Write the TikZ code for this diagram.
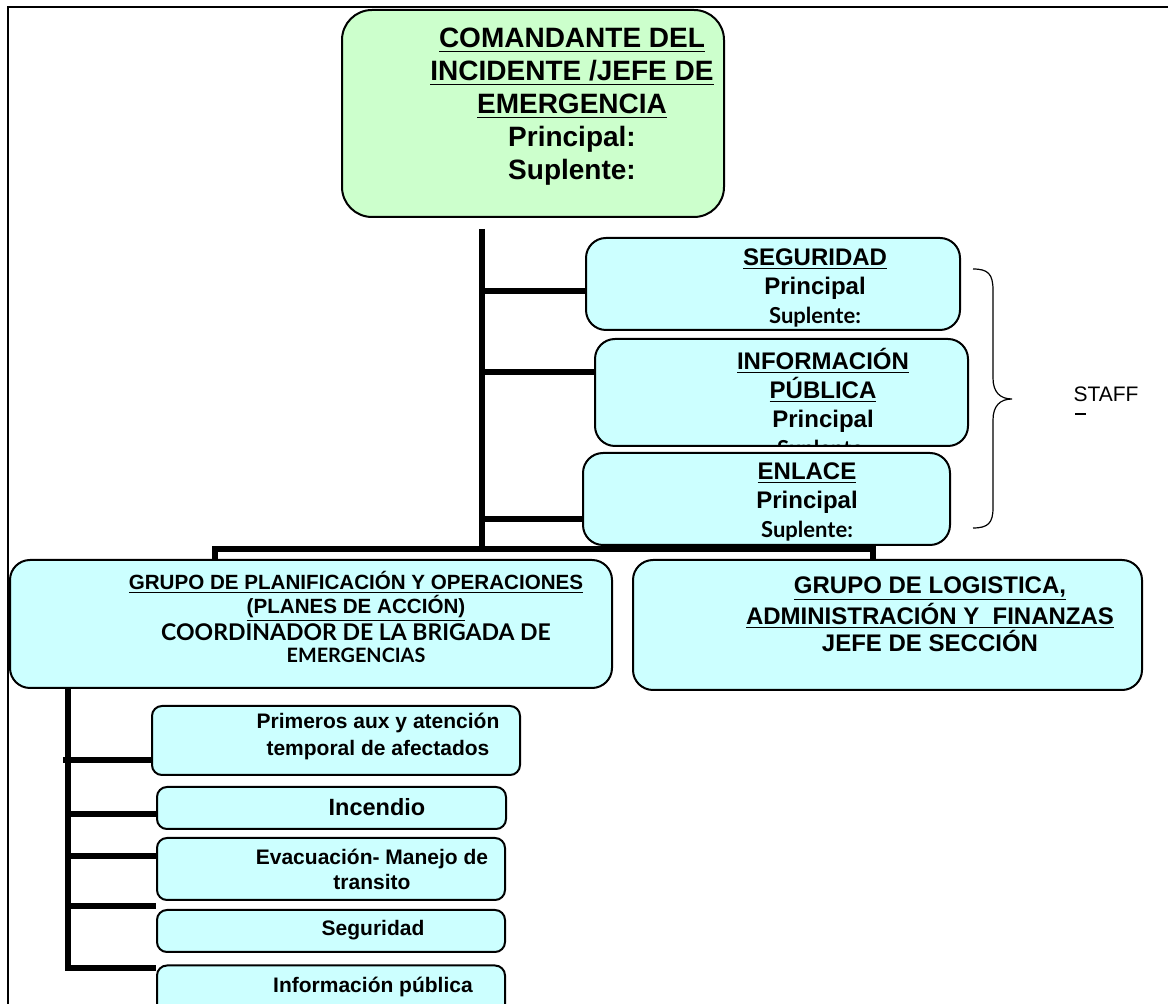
\documentclass[tikz,border=0pt]{standalone}
\usepackage{fontspec}
\setmainfont{Liberation Sans}
\newfontfamily\gillfont{Lato}
\definecolor{verde}{HTML}{CCFFCC}
\definecolor{celeste}{HTML}{CCFFFF}
\begin{document}
\begin{tikzpicture}[x=0.5pt,y=-0.5pt,
    caja/.style={draw=black, line width=1pt, fill=celeste, inner sep=0pt},
    texto/.style={align=center, inner sep=0pt},
    linea/.style={line width=3pt}]
    \useasboundingbox (0,0) rectangle (1168,1004);
    % marco
    \draw[line width=1.2pt] (8,1010) -- (8,7) -- (1175,7);
    % jefe de emergencia
    \node[caja, fill=verde, rounded corners=15pt, minimum width=191pt, minimum height=103.5pt] (jefe) at (533,113.5) {};
    \node[texto, font=\bfseries\fontsize{14}{16.5}\selectfont] (jefe-t) at (572,107)
        {\underline{COMANDANTE DEL}\\ \underline{INCIDENTE /JEFE DE}\\ \underline{EMERGENCIA}\\ Principal:\\ Suplente:};
    % staff
    \node[caja, rounded corners=10pt, minimum width=187pt, minimum height=46pt] (seg) at (773,284) {};
    \node[texto, font=\bfseries\fontsize{12}{14.5}\selectfont] (seg-t) at (815,288)
        {\underline{SEGURIDAD}\\ Principal\\ {\gillfont\fontsize{11}{12}\selectfont Suplente:}};
    \node[caja, rounded corners=10pt, minimum width=186.5pt, minimum height=53.5pt] (info) at (781.5,392.5) {};
    \begin{scope}
        \clip[rounded corners=10pt] (info.south west) rectangle (info.north east);
        \node[texto, font=\bfseries\fontsize{12}{14.5}\selectfont] (info-t) at (823,404)
            {\underline{INFORMACIÓN}\\ \underline{PÚBLICA}\\ Principal\\ {\gillfont\fontsize{11}{12}\selectfont Suplente:}};
    \end{scope}
    \node[caja, rounded corners=10pt, minimum width=183.5pt, minimum height=46pt] (enlace) at (766.5,499) {};
    \node[texto, font=\bfseries\fontsize{12}{14.5}\selectfont] (enlace-t) at (807,502)
        {\underline{ENLACE}\\ Principal\\ {\gillfont\fontsize{11}{12}\selectfont Suplente:}};
    % llave y staff
    \draw[line width=0.6pt] (973,269) .. controls (988,269) and (993,274) .. (993,290) -- (993,378)
        .. controls (993,392) and (1000,399) .. (1012,399) .. controls (1000,399) and (993,406) .. (993,420)
        -- (993,508) .. controls (993,523) and (988,528) .. (973,528);
    \node[texto, font=\fontsize{10.5}{12}\selectfont] (staff) at (1106,394) {STAFF};
    \draw[line width=0.6pt] (1075,414) -- (1086,414);
    % grupos
    \node[caja, rounded corners=10pt, minimum width=301pt, minimum height=64pt] (planif) at (311,624) {};
    \node[texto, font=\bfseries\fontsize{10.3}{11}\selectfont] (planif-t) at (356,617)
        {\underline{GRUPO DE PLANIFICACIÓN Y OPERACIONES}\\ \underline{(PLANES DE ACCIÓN)}\\
         {\gillfont\fontsize{11.5}{11.5}\selectfont COORDINADOR DE LA BRIGADA DE}\\ {\gillfont\fontsize{9.9}{11}\selectfont EMERGENCIAS}};
    \node[caja, rounded corners=10pt, minimum width=254.5pt, minimum height=65pt] (logis) at (887.5,625) {};
    \node[texto, font=\bfseries\fontsize{12}{13.5}\selectfont] (logis-t) at (930,614)
        {\underline{GRUPO DE LOGISTICA,}\\ \underline{ADMINISTRACIÓN Y\ \ FINANZAS}\\ JEFE DE SECCIÓN};
    % brigadas
    \node[caja, rounded corners=5pt, minimum width=184pt, minimum height=34.5pt] (primeros) at (336,740.5) {};
    \node[texto, font=\bfseries\fontsize{10.5}{13.5}\selectfont] (primeros-t) at (378,736.5)
        {Primeros aux y atención\\ temporal de afectados};
    \node[caja, rounded corners=5pt, minimum width=174.5pt, minimum height=21pt] (incendio) at (331.5,808) {};
    \node[texto, font=\bfseries\fontsize{11.75}{13}\selectfont] (incendio-t) at (377,807) {Incendio};
    \node[caja, rounded corners=5pt, minimum width=174pt, minimum height=31pt] (evac) at (331,869) {};
    \node[texto, font=\bfseries\fontsize{10.5}{12.5}\selectfont] (evac-t) at (372,869.5)
        {Evacuación- Manejo de\\ transito};
    \node[caja, rounded corners=5pt, minimum width=174pt, minimum height=21pt] (segur) at (331,931) {};
    \node[texto, font=\bfseries\fontsize{10.5}{12}\selectfont] (segur-t) at (373,930) {Seguridad};
    \node[caja, rounded corners=5pt, minimum width=174pt, minimum height=24.5pt] (infopub) at (331,990) {};
    \node[texto, font=\bfseries\fontsize{10.5}{12}\selectfont] (infopub-t) at (373,987) {Información pública};
    % conectores
    \coordinate (tronco) at (482,229);
    \coordinate (bus-izq) at (215,549);
    \coordinate (bus-der) at (873,549);
    \draw[linea] (tronco) -- (tronco |- bus-izq);
    \draw[linea] (tronco |- 0,291) -- ([yshift=-3.5pt]seg.west) ++(-2pt,0);
    \draw[linea] (tronco |- 0,372) -- ([yshift=10.25pt]info.west);
    \draw[linea] (tronco |- 0,519) -- ([yshift=-10pt]enlace.west);
    \draw[linea] (bus-izq |- planif.north) -- (bus-izq) -- (bus-der) -- (bus-der |- logis.north);
    \coordinate (sub) at (68,688);
    \draw[linea] (sub) |- ([yshift=11pt]infopub.west);
    \draw[linea] ([xshift=-2.5pt]sub |- 0,760) -- ([yshift=-9.75pt]primeros.west);
    \draw[linea] (sub |- 0,814) -- ([yshift=-3pt]incendio.west);
    \draw[linea] (sub |- 0,856) -- ([yshift=6.5pt]evac.west);
    \draw[linea] (sub |- 0,906) -- ([yshift=12.5pt]segur.west);
\end{tikzpicture}
\end{document}
